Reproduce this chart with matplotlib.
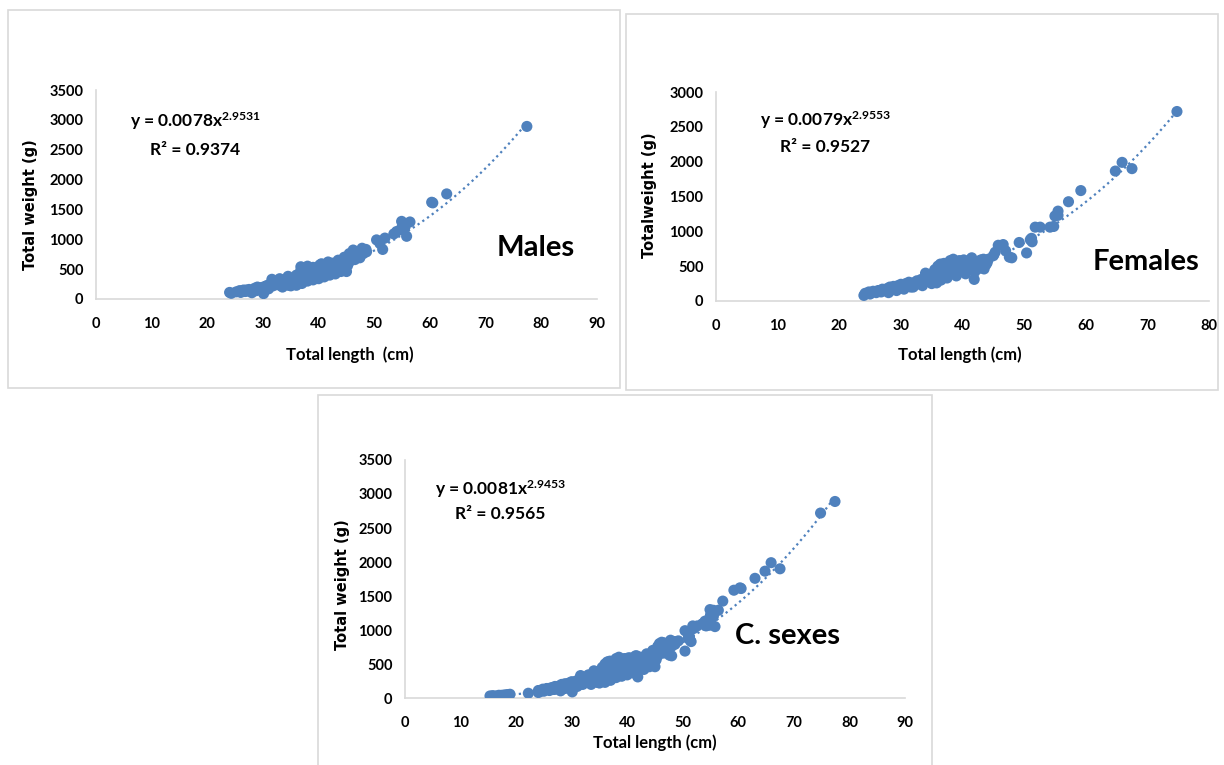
import numpy as np
import matplotlib
matplotlib.use("Agg")
import matplotlib.pyplot as plt
from matplotlib.patches import Rectangle

# ---------------- data ----------------
males_len = [24.0, 24.3, 25.2, 25.8, 26.0, 26.5, 26.8, 27.2, 27.5, 28.0, 28.3, 28.5, 28.8,
             29.0, 29.3, 29.6, 30.0, 30.1, 30.3, 30.5, 30.8, 31.0, 31.3, 31.6, 31.8, 32.0,
             32.3, 32.6, 33.0, 33.2, 33.5, 33.8, 34.0, 34.3, 34.6, 34.8, 35.0, 35.3, 35.5,
             35.8, 36.0, 36.2, 36.5, 36.8, 37.0, 37.2, 37.5, 37.7, 38.0, 38.3, 38.5, 38.8,
             39.0, 39.3, 39.5, 39.8, 40.0, 40.2, 40.5, 40.8, 41.0, 41.3, 41.7, 42.0, 42.3,
             42.6, 43.0, 43.3, 43.6, 44.0, 44.3, 44.6, 45.0, 45.2, 45.5, 46.0, 46.2, 46.5,
             47.0, 47.4, 47.8, 48.0, 48.5, 48.6, 50.4, 51.9, 51.5, 51.0, 53.5, 54.0, 54.9,
             55.1, 54.9, 56.4, 55.8, 55.5, 60.3, 60.5, 63.0, 77.4,
             26.2, 27.0, 29.5, 31.0, 32.8, 34.0, 35.6, 36.6, 37.4, 38.6, 39.6, 40.6, 41.5, 43.0,
             33.5, 35.0, 36.0, 37.0, 38.0, 39.0, 40.0, 41.0, 42.0, 43.0, 44.0, 36.8, 38.0,
             40.5, 39.0, 42.5, 43.5, 45.5, 34.5, 33.0]
males_wt = [110, 95, 120, 140, 110, 150, 125, 135, 160, 105, 150, 180, 140,
            200, 165, 190, 150, 90, 210, 180, 230, 200, 250, 330, 220, 260,
            240, 280, 230, 300, 270, 250, 310, 280, 230, 330, 300, 260, 350,
            310, 400, 280, 370, 480, 330, 420, 520, 360, 450, 400, 340, 480,
            420, 380, 520, 450, 400, 570, 480, 430, 520, 470, 620, 500, 560,
            450, 580, 520, 480, 600, 650, 700, 460, 560, 620, 700, 820, 660,
            720, 690, 850, 760, 830, 790, 990, 1020, 830, 930, 1090, 1130, 1190,
            1160, 1300, 1290, 1050, 1200, 1620, 1610, 1760, 2890,
            130, 150, 170, 170, 260, 250, 300, 330, 370, 380, 400, 440, 450, 500,
            200, 220, 230, 260, 300, 320, 340, 370, 400, 420, 460, 540, 550,
            590, 530, 600, 650, 760, 380, 340]

fem_len = [24.0, 24.2, 24.8, 25.0, 25.5, 26.0, 26.3, 26.8, 27.0, 27.4, 27.8, 28.0, 28.2,
           28.5, 28.8, 29.0, 29.3, 29.5, 29.8, 30.0, 30.3, 30.5, 30.8, 31.0, 31.3, 31.6,
           32.0, 32.3, 32.6, 33.0, 33.3, 33.6, 34.0, 34.3, 34.6, 35.0, 35.2, 35.5, 35.8,
           36.0, 36.4, 36.8, 37.0, 37.4, 37.8, 38.0, 38.3, 38.6, 39.0, 39.3, 39.6, 40.0,
           40.2, 40.5, 40.8, 41.0, 41.4, 41.9, 42.0, 42.4, 42.8, 43.0, 43.4, 43.8, 44.0,
           45.0, 45.3, 45.8, 46.6, 47.0, 47.6, 48.0, 49.2, 50.4, 51.0, 51.2, 51.3, 51.8,
           52.6, 54.2, 54.8, 55.0, 55.5, 55.5, 57.2, 59.2, 64.8, 65.9, 67.5, 74.8,
           26.5, 28.0, 29.0, 30.5, 31.8, 33.0, 34.5, 36.2, 37.2, 38.8, 39.8, 41.2, 42.6, 43.6,
           32.0, 33.5, 35.0, 36.5, 37.5, 39.0, 40.5, 42.0, 43.5, 36.0, 37.0, 38.5, 39.5,
           41.5, 42.5, 44.2, 34.0, 35.5]
fem_wt = [80, 110, 130, 100, 140, 120, 150, 130, 170, 150, 180, 120, 200,
          160, 210, 180, 150, 220, 190, 240, 200, 170, 250, 220, 270, 200,
          260, 230, 290, 250, 310, 270, 330, 290, 360, 300, 400, 340, 260,
          380, 530, 350, 430, 380, 470, 580, 400, 500, 440, 560, 480, 430,
          590, 500, 460, 540, 600, 310, 480, 530, 470, 590, 600, 520, 550,
          650, 700, 800, 810, 720, 630, 620, 840, 690, 880, 900, 850, 1060,
          1060, 1060, 1070, 1220, 1290, 1230, 1425, 1585, 1865, 1990, 1900, 2720,
          140, 160, 190, 210, 240, 280, 320, 360, 400, 430, 470, 500, 520, 560,
          200, 220, 250, 300, 330, 360, 390, 420, 460, 500, 540, 600, 580,
          620, 570, 600, 400, 450]

juv_len = [15.3, 15.8, 16.4, 16.9, 17.4, 17.9, 18.4, 18.9, 22.2]
juv_wt = [30, 35, 30, 40, 40, 45, 50, 55, 70]

comb_len = males_len + fem_len + juv_len
comb_wt = males_wt + fem_wt + juv_wt

# power trend lines  W = a * L^b
fit_a = [0.0078, 0.0079, 0.0081]
fit_b = [2.9531, 2.9553, 2.9453]
fit_r2 = ["0.9374", "0.9527", "0.9565"]
panel_names = ["Males", "Females", "C. sexes"]
ylabels = ["Total weight (g)", "Totalweight (g)", "Total weight (g)"]
xlabels = ["Total length  (cm)", "Total length (cm)", "Total length (cm)"]
xmax = [90, 80, 90]
ymax = [3500, 3000, 3500]

# ---------------- style ----------------
W, H = 1224, 765
BLUE = "#4F81BD"
GRID = "#D9D9D9"
NARROW = ["Lato", "DejaVu Sans"]
plt.rcParams["mathtext.fontset"] = "custom"
plt.rcParams["mathtext.rm"] = "Lato:bold"
plt.rcParams["mathtext.bf"] = "Lato:bold"
plt.rcParams["mathtext.it"] = "Lato:bold"

fig = plt.figure(figsize=(W / 100, H / 100), dpi=100)
fig.patch.set_facecolor("white")


def px_rect(x0, y0, x1, y1):
    return [x0 / W, 1 - y1 / H, (x1 - x0) / W, (y1 - y0) / H]


# panel frames
for (x0, y0, x1, y1) in [(8, 10, 620, 388), (626, 14, 1218, 390), (318, 395, 932, 766)]:
    fig.patches.append(Rectangle((x0 / W, 1 - y1 / H), (x1 - x0) / W, (y1 - y0) / H,
                                 transform=fig.transFigure, fill=False,
                                 edgecolor=GRID, linewidth=1.2))

axes_px = [(96, 90, 597, 299), (716, 92, 1209, 301), (405, 460, 905, 698)]
datasets = [(males_len, males_wt), (fem_len, fem_wt), (comb_len, comb_wt)]
ylab_pos = [(-0.13, 0.45), (-0.134, 0.507), (-0.124, 0.475)]
xlab_pos = [(0.507, -0.268), (0.495, -0.258), (0.5, -0.189)]
eq_px = [(130, 121), (760, 120), (435, 489)]
r2_px = [(150, 150), (780, 147), (455, 514)]
name_px = [(536, 248), (1146, 262), (787, 636)]

for i in range(3):
    ax = fig.add_axes(px_rect(*axes_px[i]))
    xs, ys = datasets[i]
    ax.scatter(xs, ys, s=64, color=BLUE, edgecolors="none", zorder=3)
    lo, hi = min(xs), max(xs)
    xf = np.linspace(lo, hi, 200)
    ax.plot(xf, fit_a[i] * xf ** fit_b[i], linestyle=(0, (1, 1.6)), color=BLUE,
            linewidth=1.6, zorder=2)
    ax.set_xlim(0, xmax[i])
    ax.set_ylim(0, ymax[i])
    ax.set_xticks(np.arange(0, xmax[i] + 1, 10))
    ax.set_yticks(np.arange(0, ymax[i] + 1, 500))
    for s in ["top", "right"]:
        ax.spines[s].set_visible(False)
    for s in ["left", "bottom"]:
        ax.spines[s].set_color(GRID)
        ax.spines[s].set_linewidth(1.2)
    ax.tick_params(length=0)
    ax.tick_params(axis="x", pad=13)
    ax.tick_params(axis="y", pad=9)
    for lab in ax.get_xticklabels() + ax.get_yticklabels():
        lab.set_fontfamily(NARROW)
        lab.set_fontweight("bold")
        lab.set_fontsize(10.5)
    ax.set_xlabel(xlabels[i], fontsize=12, fontweight="bold", family=NARROW)
    ax.xaxis.label.set_va("center")
    ax.xaxis.set_label_coords(*xlab_pos[i])
    ax.set_ylabel(ylabels[i], fontsize=10.5, fontweight="bold", family=["DejaVu Sans"])
    ax.yaxis.label.set_va("center")
    ax.yaxis.set_label_coords(*ylab_pos[i])

    ex, ey = eq_px[i]
    fig.text(ex / W, 1 - ey / H,
             "y = %.4fx$^{%.4f}$" % (fit_a[i], fit_b[i]),
             fontsize=12.5, fontweight="bold", family=NARROW, ha="left", va="center")
    rx, ry = r2_px[i]
    fig.text(rx / W, 1 - ry / H, "R\u00b2 = " + fit_r2[i],
             fontsize=12.5, fontweight="bold", family=NARROW, ha="left", va="center")
    nx, ny = name_px[i]
    fig.text(nx / W, 1 - ny / H, panel_names[i], fontsize=21, fontweight="bold",
             family=NARROW, ha="center", va="center")

fig.savefig("out.png", dpi=100, facecolor="white")
